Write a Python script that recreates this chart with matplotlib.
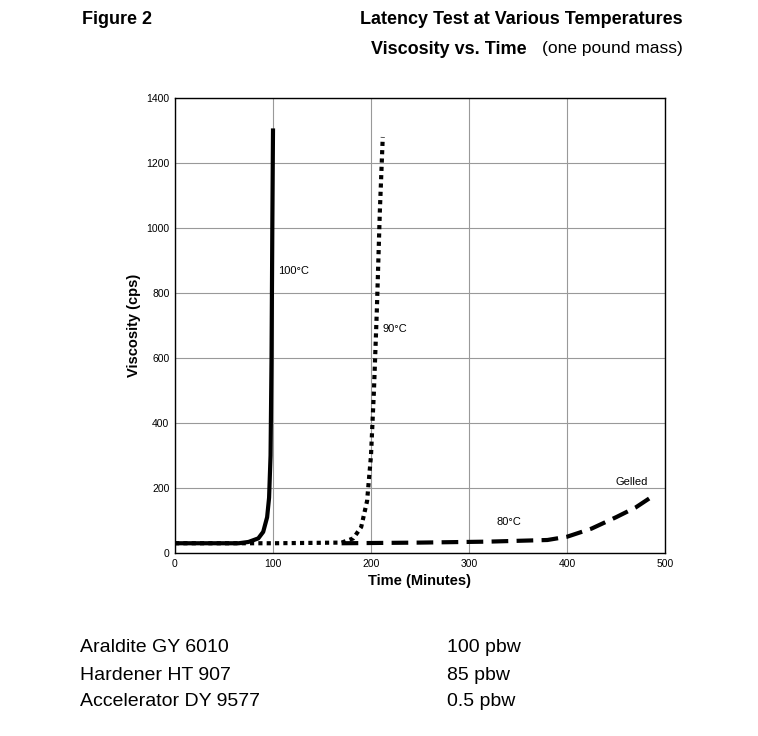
import matplotlib.pyplot as plt

plt.rcParams['font.family'] = ['Liberation Sans', 'DejaVu Sans']

# 100 C curve (solid)
t100 = [0, 30, 65, 75, 85, 90, 94, 96, 97.5, 98.5, 99.3, 100]
v100 = [30, 30, 30, 34, 45, 65, 110, 170, 300, 600, 1000, 1300]
# 90 C curve (dotted)
t90 = [0, 100, 170, 182, 190, 196, 200, 203, 206, 209, 212]
v90 = [30, 30, 32, 45, 80, 160, 300, 500, 750, 1050, 1280]
# 80 C curve (dashed)
t80 = [170, 250, 320, 380, 400, 425, 450, 470, 490]
v80 = [30, 32, 35, 40, 50, 75, 110, 140, 180]

labels = [("100°C", 105, 860), ("90°C", 212, 680), ("80°C", 328, 85), ("Gelled", 450, 210)]
ingredients = ["Araldite GY 6010", "Hardener HT 907", "Accelerator DY 9577"]
amounts = ["100 pbw", "85 pbw", "0.5 pbw"]

fig = plt.figure(figsize=(7.58, 7.36), dpi=100)
ax = fig.add_axes([175 / 758, 1 - 553 / 736, 490 / 758, 455 / 736])

ax.plot(t100, v100, color='black', lw=3)
ax.plot(t90, v90, color='black', lw=3, linestyle=(0, (1, 1)))
ax.plot(t80, v80, color='black', lw=3, linestyle=(0, (4, 2)))

ax.set_xlim(0, 500)
ax.set_ylim(0, 1400)
ax.set_xticks(range(0, 501, 100))
ax.set_yticks(range(0, 1401, 200))
ax.tick_params(labelsize=7.5, length=0, pad=4)
ax.grid(True, color='#999999', lw=0.8)
ax.set_xlabel('Time (Minutes)', fontsize=10.5, fontweight='bold')
ax.set_ylabel('Viscosity (cps)', fontsize=10.5, fontweight='bold')
for s in ax.spines.values():
    s.set_linewidth(1.0)

for txt, x, y in labels:
    ax.text(x, y, txt, fontsize=8)

fig.text(82 / 758, 1 - 20 / 736, 'Figure 2', fontsize=13, fontweight='bold', va='center')
fig.text(683 / 758, 1 - 20 / 736, 'Latency Test at Various Temperatures', fontsize=13,
         fontweight='bold', va='center', ha='right')
fig.text(527 / 758, 1 - 49 / 736, 'Viscosity vs. Time', fontsize=13, fontweight='bold',
         va='center', ha='right')
fig.text(542 / 758, 1 - 49 / 736, '(one pound mass)', fontsize=12.5, va='center')

for i, (a, b) in enumerate(zip(ingredients, amounts)):
    y = 1 - (648 + i * 27) / 736
    fig.text(80 / 758, y, a, fontsize=14, va='center')
    fig.text(447 / 758, y, b, fontsize=14, va='center')

fig.savefig('out.png', dpi=100, facecolor='white')
